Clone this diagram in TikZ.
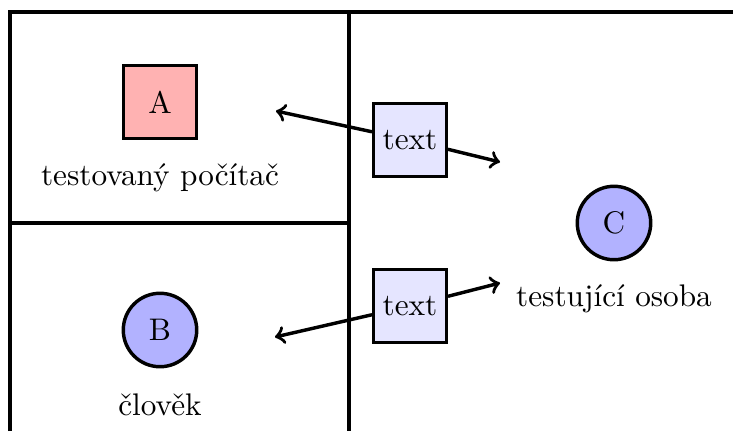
\documentclass[tikz,border=0pt]{standalone}
\usepackage{fontspec}
\begin{document}
\begin{tikzpicture}[x=0.32pt,y=-0.32pt,
  frame/.style={line width=1.1pt},
  sq/.style={draw,line width=1.1pt,minimum size=23.2pt,inner sep=0pt},
  circ/.style={draw,circle,line width=1.1pt,minimum size=23.5pt,inner sep=0pt,fill=blue!30},
  textbox/.style={sq,fill=blue!10},
  lbl/.style={anchor=base,inner sep=0pt},
  arr/.style={->,line width=1.1pt}]
\useasboundingbox (0,0) rectangle (733,431);
\draw[frame] (10,431) -- (10,12) -- (733,12);
\draw[frame] (349,12) -- (349,431);
\draw[frame] (10,223) -- (349,223);
\node[sq,fill=red!30] (A) at (160,102) {A};
\node[lbl] (la) at (160,185) {testovaný počítač};
\node[circ] (B) at (160,330) {B};
\node[lbl] (lb) at (160,415) {člověk};
\node[circ] (C) at (614,223) {C};
\node[lbl] (lc) at (614,306) {testující osoba};
\node[textbox] (t1) at (410,140) {text};
\node[textbox] (t2) at (410,306) {text};
\coordinate (p1) at (276,111);
\coordinate (p2) at (500,162);
\coordinate (p3) at (275,337);
\coordinate (p4) at (500,283);
\draw[arr] (t1) -- (p1);
\draw[arr] (t1) -- (p2);
\draw[arr] (t2) -- (p3);
\draw[arr] (t2) -- (p4);
\end{tikzpicture}
\end{document}
